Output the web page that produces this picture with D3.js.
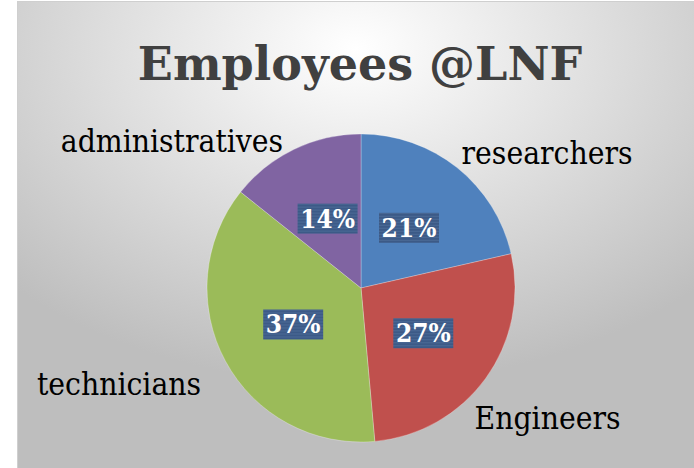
<!DOCTYPE html>
<meta charset="utf-8">
<style>
  body { margin: 0; background: #fff; }
  svg text { font-family: 'DejaVu Serif Condensed', 'DejaVu Serif', serif; }
  svg text.title { font-family: 'DejaVu Serif', serif; }
</style>
<script src="https://d3js.org/d3.v7.min.js"></script>
<div id="chart"></div>
<script>

// data (head counts, shown as percentages)
var categories = ["researchers", "Engineers", "technicians", "administratives"];
var counts = [15, 19, 26, 10];
var colors = ["#4f81bd", "#c0504d", "#9bbb59", "#8064a2"];
var title = "Employees @LNF";

var W = 694, H = 468;
var frame = {x: 17, y: 1, w: 677, h: 467};
var cx = 361, cy = 288, r = 154;

var svg = d3.select("#chart").append("svg")
    .attr("width", W)
    .attr("height", H);

var defs = svg.append("defs");

// background gradient, white at the top middle going to gray
var grad = defs.append("radialGradient")
    .attr("id", "bg")
    .attr("cx", 0.5).attr("cy", 0.1).attr("r", 0.72);
grad.append("stop").attr("offset", 0).attr("stop-color", "#ffffff");
grad.append("stop").attr("offset", 1).attr("stop-color", "#bebebe");

// striped fill for the percent boxes
var pat = defs.append("pattern")
    .attr("id", "stripes")
    .attr("patternUnits", "userSpaceOnUse")
    .attr("width", 4).attr("height", 3);
pat.append("rect").attr("width", 4).attr("height", 3).attr("fill", "#3c5a87");
pat.append("rect").attr("width", 4).attr("height", 1).attr("fill", "#4b6a96");

svg.append("rect")
    .attr("x", frame.x + 0.5).attr("y", frame.y + 0.5)
    .attr("width", frame.w).attr("height", frame.h)
    .attr("fill", "url(#bg)")
    .attr("stroke", "#cfcfcf");

svg.append("text")
    .attr("class", "title")
    .attr("x", 360)
    .attr("y", 80)
    .attr("text-anchor", "middle")
    .attr("font-size", 46)
    .attr("font-weight", "bold")
    .attr("fill", "#404040")
    .text(title);

var data = categories.map(function(c, i) { return {name: c, value: counts[i], color: colors[i]}; });
var total = d3.sum(counts);

var pie = d3.pie()
    .sort(null)
    .value(function(d) { return d.value; });

var arcs = pie(data);

var arc = d3.arc().innerRadius(0).outerRadius(r);
var inner = d3.arc().innerRadius(r * 0.5).outerRadius(r * 0.5);
var outer = d3.arc().innerRadius(r * 1.12).outerRadius(r * 1.12);

var g = svg.append("g")
    .attr("transform", "translate(" + cx + "," + cy + ")");

g.selectAll("path.slice")
  .data(arcs)
  .enter().append("path")
    .attr("class", "slice")
    .attr("d", arc)
    .attr("fill", function(d) { return d.data.color; })
    .attr("stroke", "rgba(255,255,255,0.45)")
    .attr("stroke-width", 0.6);

// percentage boxes inside the slices
var pct = g.selectAll("g.pct")
  .data(arcs)
  .enter().append("g")
    .attr("class", "pct")
    .attr("transform", function(d) { return "translate(" + inner.centroid(d) + ")"; });

pct.append("rect")
    .attr("x", -30).attr("y", -15)
    .attr("width", 60).attr("height", 30)
    .attr("fill", "url(#stripes)");

pct.append("text")
    .attr("text-anchor", "middle")
    .attr("y", 9)
    .attr("font-size", 26)
    .attr("font-weight", "bold")
    .attr("fill", "#fff")
    .text(function(d) { return Math.round(d.data.value / total * 100) + "%"; });

// category names outside, nudged the way the original spreadsheet placed them
var nudge = {
  researchers: [-7, 0],
  Engineers: [-26, 29],
  technicians: [-8, 14],
  administratives: [-3, 8]
};

g.selectAll("text.name")
  .data(arcs)
  .enter().append("text")
    .attr("class", "name")
    .attr("transform", function(d) {
      var p = outer.centroid(d), n = nudge[d.data.name];
      return "translate(" + (p[0] + n[0]) + "," + (p[1] + n[1]) + ")";
    })
    .attr("text-anchor", function(d) {
      return (d.startAngle + d.endAngle) / 2 < Math.PI ? "start" : "end";
    })
    .attr("dy", "0.35em")
    .attr("font-size", 31.5)
    .attr("fill", "#000")
    .text(function(d) { return d.data.name; });

</script>
